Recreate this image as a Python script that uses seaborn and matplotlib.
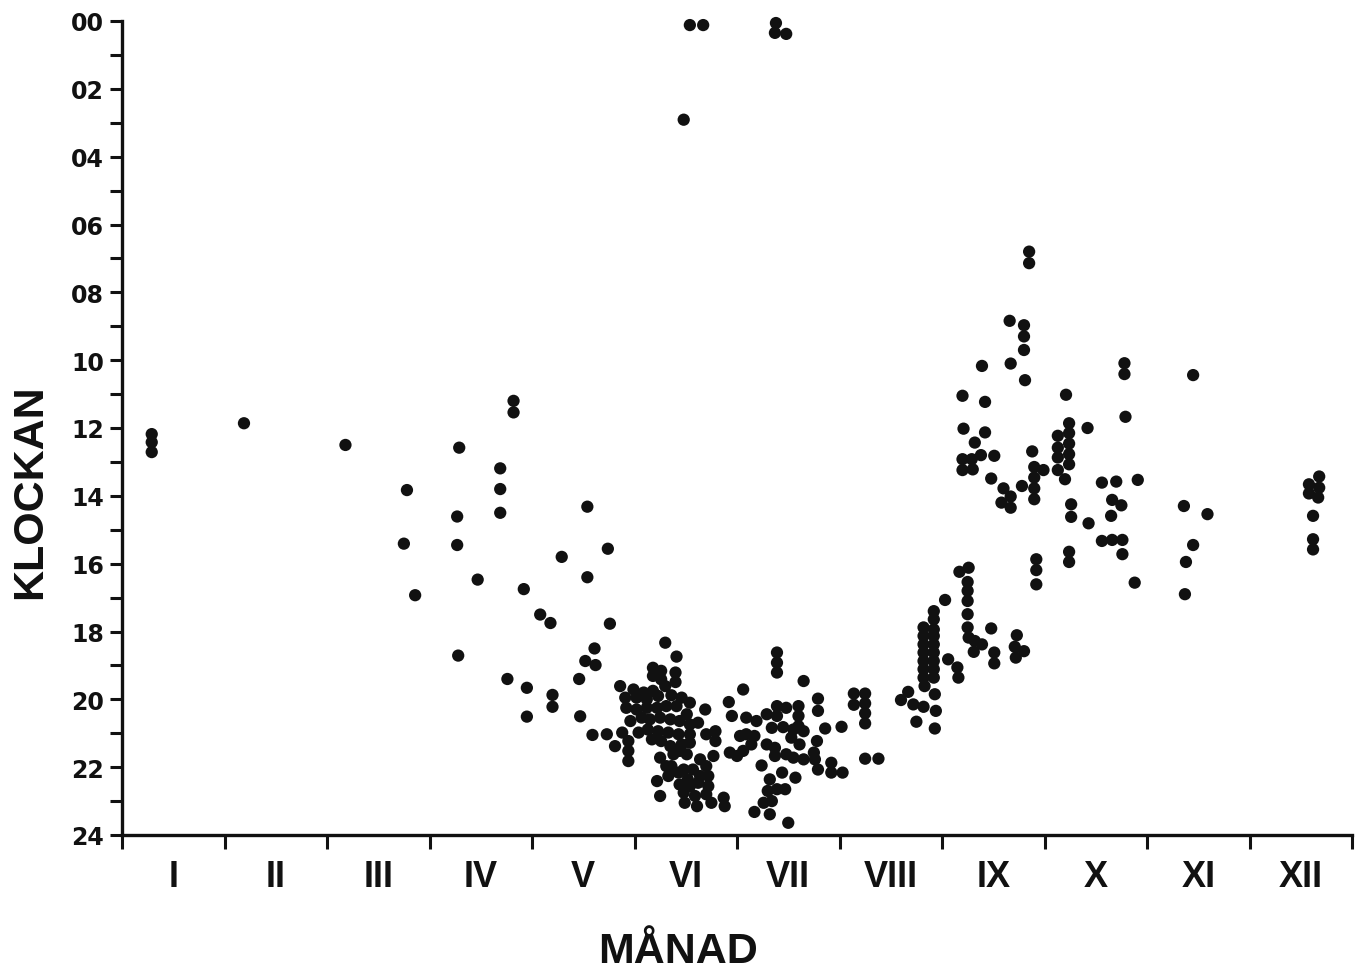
import numpy as np
import pandas as pd
import matplotlib
matplotlib.use("Agg")
import matplotlib.pyplot as plt
import seaborn as sns
from matplotlib.ticker import FixedLocator

# ---- data: month position (0-12, fractional) and clock hour (0-24) ----
m_early = [0.29, 0.29, 0.29, 1.19, 2.18, 2.78, 2.75, 2.86]
h_early = [12.18, 12.42, 12.71, 11.86, 12.50, 13.83, 15.41, 16.93]

m_apr = [3.82, 3.82, 3.29, 3.69, 3.69, 3.27, 3.69, 3.27, 3.47, 3.92, 3.28, 3.76, 3.95, 3.95]
h_apr = [11.20, 11.54, 12.58, 13.19, 13.80, 14.61, 14.50, 15.45, 16.47, 16.75, 18.71, 19.40, 19.66, 20.51]

m_may = [4.54, 4.74, 4.29, 4.54, 4.08, 4.18, 4.76, 4.61, 4.52, 4.62, 4.20, 4.20, 4.46, 4.47, 4.59]
h_may = [14.32, 15.56, 15.80, 16.40, 17.50, 17.75, 17.77, 18.50, 18.87, 18.99, 19.87, 20.22, 19.40, 20.50, 21.05]

m_night = [5.54, 5.67, 5.48, 6.38, 6.37, 6.48]
h_night = [0.12, 0.12, 2.91, 0.06, 0.35, 0.38]

m_jun = [5.30, 5.41, 5.18, 5.26, 5.40, 5.18, 5.26, 5.40, 5.30, 4.86, 4.99, 5.09, 5.18, 4.91, 5.02,
         5.12, 5.23, 5.36, 5.46, 5.54, 4.92, 5.02, 5.12, 5.22, 5.31, 5.41, 5.51, 5.69, 4.96, 5.07,
         5.15, 5.25, 5.35, 5.44, 5.54, 5.62, 4.73, 4.88, 5.04, 5.13, 5.23, 5.33, 5.43, 5.54, 5.70,
         5.79, 4.81, 4.94, 5.17, 5.26, 5.35, 5.46, 5.54, 5.79, 4.94, 4.94, 5.38, 5.44, 5.51, 5.25,
         5.64, 5.77, 5.31, 5.36, 5.48, 5.57, 5.70, 5.33, 5.43, 5.52, 5.64, 5.72, 5.22, 5.44, 5.54,
         5.62, 5.72, 5.25, 5.48, 5.59, 5.70, 5.87, 5.49, 5.61, 5.75, 5.88]
h_jun = [18.33, 18.74, 19.07, 19.16, 19.21, 19.31, 19.41, 19.49, 19.61, 19.61, 19.71, 19.80, 19.75, 19.95, 19.95,
         20.00, 19.90, 19.88, 19.95, 20.10, 20.25, 20.30, 20.25, 20.25, 20.20, 20.20, 20.44, 20.30, 20.64, 20.54,
         20.59, 20.54, 20.59, 20.64, 20.74, 20.69, 21.03, 20.98, 20.98, 20.89, 20.94, 20.98, 21.03, 21.03, 21.03,
         20.94, 21.38, 21.23, 21.18, 21.23, 21.38, 21.33, 21.28, 21.23, 21.52, 21.82, 21.62, 21.52, 21.62, 21.72,
         21.77, 21.67, 21.97, 21.97, 22.07, 22.07, 21.97, 22.26, 22.16, 22.36, 22.26, 22.26, 22.41, 22.51, 22.56,
         22.46, 22.56, 22.85, 22.75, 22.85, 22.80, 22.90, 23.05, 23.15, 23.05, 23.15]

m_jul = [6.39, 6.39, 6.39, 6.65, 6.06, 6.79, 6.79, 5.92, 5.95, 6.09, 6.19, 6.29, 6.39, 6.39, 6.48,
         6.60, 6.60, 6.60, 6.34, 6.45, 6.55, 6.65, 6.86, 7.02, 6.03, 6.09, 6.17, 6.29, 6.37, 6.53,
         6.61, 6.78, 5.93, 6.00, 6.06, 6.14, 6.37, 6.48, 6.55, 6.65, 6.75, 6.76, 6.24, 6.44, 6.57,
         6.79, 6.92, 6.92, 7.03, 6.32, 6.30, 6.39, 6.47, 6.26, 6.34, 6.17, 6.32, 6.50]
h_jul = [18.62, 18.92, 19.21, 19.46, 19.71, 19.98, 20.34, 20.08, 20.49, 20.54, 20.64, 20.44, 20.49, 20.20, 20.25,
         20.20, 20.49, 20.79, 20.84, 20.82, 20.89, 20.94, 20.86, 20.81, 21.08, 21.03, 21.08, 21.33, 21.43, 21.13,
         21.33, 21.23, 21.57, 21.67, 21.52, 21.33, 21.67, 21.62, 21.72, 21.77, 21.57, 21.77, 21.95, 22.16, 22.31,
         22.07, 21.87, 22.16, 22.16, 22.36, 22.70, 22.65, 22.65, 23.05, 23.00, 23.32, 23.39, 23.64]

m_aug = [7.14, 7.25, 7.14, 7.25, 7.25, 7.25, 7.25, 7.38, 7.60, 7.67, 7.72, 7.82, 7.75, 7.93, 7.83, 7.93, 7.94]
h_aug = [19.83, 19.83, 20.16, 20.12, 20.41, 20.71, 21.75, 21.75, 20.02, 19.78, 20.15, 20.22, 20.66, 20.86, 19.61, 19.85, 20.34]

m_sep_eve = [7.82, 7.82, 7.82, 7.82, 7.82, 7.82, 7.82,
             7.92, 7.92, 7.92, 7.92, 7.92, 7.92, 7.92, 7.92, 7.92,
             8.03, 8.06, 8.15, 8.16, 8.17, 8.26, 8.25, 8.25, 8.25, 8.25, 8.25,
             8.26, 8.32, 8.39, 8.31, 8.48, 8.51, 8.51, 8.73, 8.71, 8.80, 8.72, 8.92, 8.92, 8.92]
h_sep_eve = [17.88, 18.13, 18.38, 18.62, 18.87, 19.11, 19.36,
             17.40, 17.64, 17.94, 18.13, 18.38, 18.62, 18.87, 19.11, 19.36,
             17.07, 18.82, 19.06, 19.36, 16.24, 16.12, 16.54, 16.80, 17.10, 17.49, 17.88,
             18.18, 18.28, 18.38, 18.60, 17.91, 18.62, 18.94, 18.11, 18.45, 18.58, 18.77, 15.87, 16.19, 16.61]

m_sep_day = [8.85, 8.85, 8.66, 8.80, 8.80, 8.80, 8.67, 8.39, 8.81, 8.20, 8.42, 8.21, 8.42, 8.32, 8.20, 8.29,
             8.20, 8.30, 8.38, 8.51, 8.48, 8.60, 8.67, 8.58, 8.67, 8.78, 8.88, 8.90, 8.99, 8.90, 8.90, 8.90]
h_sep_day = [6.80, 7.14, 8.84, 8.97, 9.30, 9.70, 10.10, 10.17, 10.59, 11.05, 11.23, 12.02, 12.13, 12.43, 12.92, 12.92,
             13.24, 13.22, 12.80, 12.82, 13.49, 13.78, 14.02, 14.20, 14.35, 13.71, 12.69, 13.15, 13.24, 13.46, 13.78, 14.10]

m_oct = [9.13, 9.13, 9.13, 9.13, 9.20, 9.24, 9.24, 9.24, 9.24, 9.24, 9.21, 9.42, 9.79, 9.78, 9.78,
         9.56, 9.70, 9.91, 9.66, 9.75, 9.65, 9.26, 9.26, 9.43, 9.56, 9.66, 9.76, 9.76, 9.24, 9.24, 9.88]
h_oct = [12.23, 12.58, 12.87, 13.24, 13.51, 11.86, 12.15, 12.46, 12.77, 13.07, 11.02, 12.00, 11.67, 10.09, 10.41,
         13.61, 13.58, 13.53, 14.12, 14.28, 14.59, 14.25, 14.62, 14.81, 15.33, 15.30, 15.30, 15.72, 15.65, 15.95, 16.56]

m_nov = [10.45, 10.36, 10.59, 10.45, 10.38, 10.37]
h_nov = [10.44, 14.30, 14.54, 15.45, 15.95, 16.90]

m_dec = [11.68, 11.58, 11.68, 11.58, 11.67, 11.62, 11.62, 11.62]
h_dec = [13.43, 13.66, 13.76, 13.93, 14.05, 14.59, 15.28, 15.58]

month_labels = ["I", "II", "III", "IV", "V", "VI", "VII", "VIII", "IX", "X", "XI", "XII"]
hour_labels = ["00", "02", "04", "06", "08", "10", "12", "14", "16", "18", "20", "22", "24"]

df = pd.DataFrame({
    "month": m_early + m_apr + m_may + m_night + m_jun + m_jul + m_aug + m_sep_eve + m_sep_day + m_oct + m_nov + m_dec,
    "hour": h_early + h_apr + h_may + h_night + h_jun + h_jul + h_aug + h_sep_eve + h_sep_day + h_oct + h_nov + h_dec,
})

sns.set_theme(style="white")
plt.rcParams["font.family"] = ["Liberation Sans", "DejaVu Sans"]

fig = plt.figure(figsize=(13.56, 9.70), dpi=100)
ax = fig.add_axes([122/1356, 1 - 836/970, (1352 - 122)/1356, (836 - 22)/970])

sns.scatterplot(data=df, x="month", y="hour", ax=ax, color="#111111", s=78,
                edgecolor="none", linewidth=0, legend=False, clip_on=False)

ax.set_xlim(0, 12)
ax.set_ylim(24, 0)

for side in ["top", "right"]:
    ax.spines[side].set_visible(False)
for side in ["left", "bottom"]:
    ax.spines[side].set_linewidth(2.4)
    ax.spines[side].set_color("#111111")

# y ticks
ax.yaxis.set_major_locator(FixedLocator(np.arange(0, 25, 2)))
ax.yaxis.set_minor_locator(FixedLocator(np.arange(1, 24, 2)))
ax.set_yticklabels(hour_labels, fontsize=17, fontweight="bold", color="#111111",
                   family=["DejaVu Sans"])
ax.tick_params(axis="y", which="major", direction="out", length=9, width=2.2, color="#111111", pad=4, left=True)
ax.tick_params(axis="y", which="minor", direction="out", length=9, width=2.2, color="#111111", left=True)

# x ticks: boundaries as major ticks, labels at month centres
ax.xaxis.set_major_locator(FixedLocator(np.arange(0, 13, 1)))
ax.xaxis.set_minor_locator(FixedLocator(np.arange(0.5, 12, 1)))
ax.set_xticklabels([""] * 13)
ax.set_xticklabels(month_labels, minor=True, fontsize=26, fontweight="bold",
                   family=["Liberation Sans", "DejaVu Sans"], color="#111111")
ax.tick_params(axis="x", which="major", direction="out", length=10, width=2.2, color="#111111", bottom=True)
ax.tick_params(axis="x", which="minor", length=0, pad=17, bottom=True)

ax.set_xlabel("")
ax.set_ylabel("")

fig.text(0.022, 0.493, "KLOCKAN", rotation=90, ha="center", va="center", fontsize=31,
         fontweight="bold", family=["Liberation Sans", "DejaVu Sans"], color="#111111")
fig.text(0.5, 0.019, "MÅNAD", ha="center", va="center", fontsize=31,
         fontweight="bold", family=["Liberation Sans", "DejaVu Sans"], color="#111111")

fig.savefig("out.png", dpi=100, facecolor="white")
